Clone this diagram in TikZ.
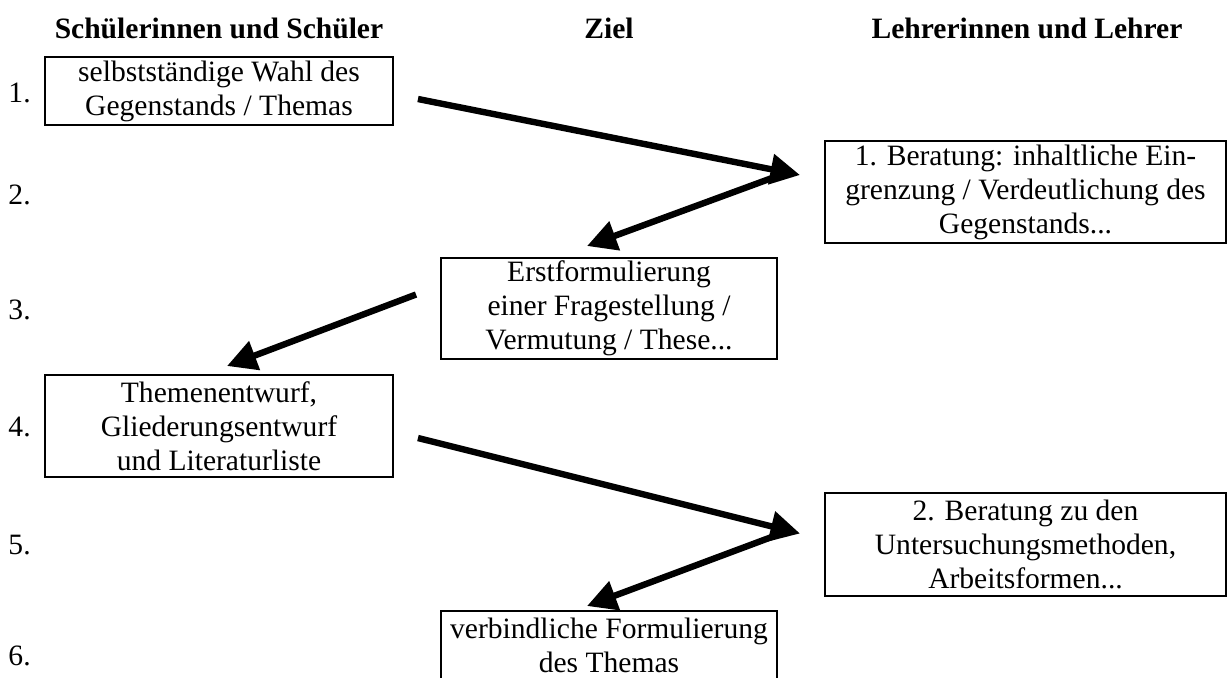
\documentclass[tikz,border=0pt]{standalone}
\usepackage{fontspec}
\setmainfont{Liberation Serif}
\usepackage{tikz}
\usetikzlibrary{positioning, arrows.meta, calc}

\tikzset{
  feld/.style={draw, line width=0.8pt, align=center, inner xsep=2pt, inner ysep=1pt,
               font=\fontsize{12pt}{13.8pt}\selectfont},
  kopf/.style={font=\fontsize{12pt}{13.8pt}\selectfont\bfseries},
  nr/.style={anchor=west, inner sep=0pt, font=\fontsize{12pt}{13.8pt}\selectfont},
  pfeil/.style={line width=2.6pt, -{Triangle[length=12pt, width=12pt]}}
}

\begin{document}
\begin{tikzpicture}[x=0.406pt, y=-0.406pt]
        \useasboundingbox (0,0) rectangle (1228,677);
        \clip (0,0) rectangle (1228,677);

        % Spaltenkoepfe
        \node[kopf] (k1) at (219,28) {Schülerinnen und Schüler};
        \node[kopf] (k2) at (609,28) {Ziel};
        \node[kopf] (k3) at (1027,28) {Lehrerinnen und Lehrer};

        % Schritte
        \foreach \n/\y in {1/93, 2/195, 3/310, 4/427, 5/545, 6/656}
          \node[nr] (n\n) at (8,\y) {\n.};

        \node[feld, minimum width=348*0.406pt, minimum height=68*0.406pt] (b1) at (219,91)
          {selbstständige Wahl des\\Gegenstands / Themas};
        \node[feld, minimum width=401*0.406pt, minimum height=102*0.406pt] (b2) at (1025.5,192)
          {1. Beratung: inhaltliche Ein-\\grenzung / Verdeutlichung des\\Gegenstands...};
        \node[feld, minimum width=336*0.406pt, minimum height=101*0.406pt] (b3) at (609,308.5)
          {Erstformulierung\\einer Fragestellung /\\Vermutung / These...};
        \node[feld, minimum width=348*0.406pt, minimum height=102*0.406pt] (b4) at (219,426)
          {Themenentwurf,\\Gliederungsentwurf\\und Literaturliste};
        \node[feld, minimum width=401*0.406pt, minimum height=103*0.406pt] (b5) at (1025.5,544.5)
          {2. Beratung zu den\\Untersuchungsmethoden,\\Arbeitsformen...};
        \node[feld, minimum width=336*0.406pt, minimum height=68*0.406pt] (b6) at (609,645)
          {verbindliche Formulierung\\des Themas};

        % Pfeile
        \draw[pfeil] ($(b1.east)+(24,8)$) -- ($(b2.west)+(-24,-17)$);
        \draw[pfeil] ($(b2.west)+(-52,-14)$) -- ($(b3.north)+(-22,-11)$);
        \draw[pfeil] ($(b3.west)+(-24,-14)$) -- ($(b4.north)+(8,-8)$);
        \draw[pfeil] ($(b4.east)+(24,12)$) -- ($(b5.west)+(-24,-11)$);
        \draw[pfeil] ($(b5.west)+(-51,-8)$) -- ($(b6.north)+(-22,-4)$);
      \end{tikzpicture}
\end{document}
